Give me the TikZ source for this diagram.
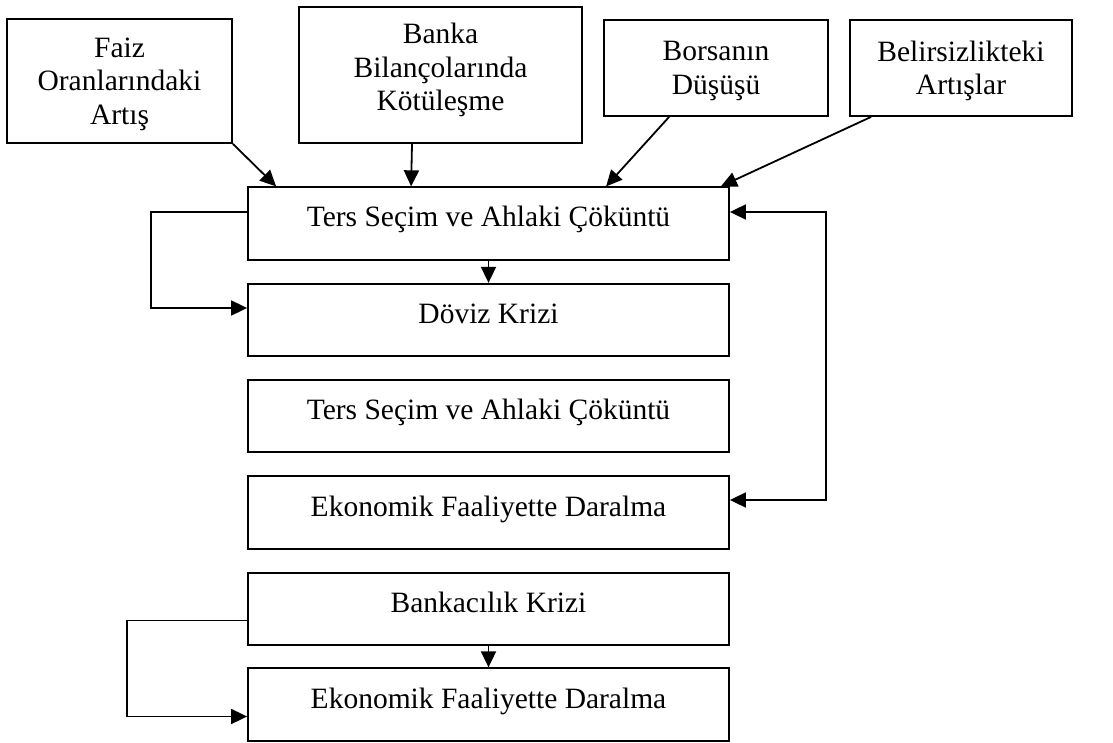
\documentclass[tikz,border=0pt]{standalone}
\usepackage{fontspec}
\setmainfont{Liberation Serif}
\usetikzlibrary{arrows.meta, positioning, calc}

\begin{document}
\begin{tikzpicture}[
    x=0.5pt, y=-0.5pt,
    topbox/.style={draw, line width=0.9pt, align=center, inner sep=2pt, text depth=0pt, font=\fontsize{14.75}{16.75}\selectfont},
    mainbox/.style={draw, line width=0.9pt, minimum width=240.5pt, minimum height=36.25pt, text height=9.5pt, text depth=6pt, font=\fontsize{14.75}{16.75}\selectfont},
    arr/.style={-{Triangle[length=8pt, width=7.5pt]}, line width=0.9pt},
    dblarr/.style={{Triangle[length=8pt, width=7.5pt]}-{Triangle[length=8pt, width=7.5pt]}, line width=0.9pt}
]
    \useasboundingbox (0,0) rectangle (1113,743);

    % Causes
    \node[topbox, minimum width=112.5pt, minimum height=62pt] (faiz) at (119.5,81) {Faiz\\Oranlarındaki\\Artış};
    \node[topbox, minimum width=141.5pt, minimum height=68pt, text depth=8pt] (banka) at (440.5,75) {Banka\\Bilançolarında\\Kötüleşme};
    \node[topbox, minimum width=112pt, minimum height=48pt] (borsa) at (716,68) {Borsanın\\Düşüşü};
    \node[topbox, minimum width=111pt, minimum height=48pt] (belirsiz) at (961,68) {Belirsizlikteki\\Artışlar};

    % Main chain
    \node[mainbox] (ters1) at (488.5,223.5) {Ters Seçim ve Ahlaki Çöküntü};
    \node[mainbox] (doviz) at (488.5,320) {Döviz Krizi};
    \node[mainbox] (ters2) at (488.5,416) {Ters Seçim ve Ahlaki Çöküntü};
    \node[mainbox] (eko1)  at (488.5,512.5) {Ekonomik Faaliyette Daralma};
    \node[mainbox] (bank)  at (488.5,609) {Bankacılık Krizi};
    \node[mainbox] (eko2)  at (488.5,704.5) {Ekonomik Faaliyette Daralma};

    % Causes to first box
    \draw[arr] (faiz.south east) -- ($(ters1.north west)+(29,0)$);
    \draw[arr] ($(banka.south)+(-28.5,0)$) -- ($(ters1.north west)+(164,0)$);
    \draw[arr] ($(borsa.south west)+(66,0)$) -- ($(ters1.north west)+(359,0)$);
    \draw[arr] ($(belirsiz.south west)+(22,0)$) -- ($(ters1.north east)+(-9,0)$);

    % Chain arrows
    \draw[arr] (ters1.south) -- (doviz.north);
    \draw[arr] (bank.south) -- (eko2.north);

    % Loops
    \draw[arr] ($(ters1.west)+(0,-11.5)$) -- ++(-96,0) |- ($(doviz.west)+(0,-12)$);
    \draw[dblarr] ($(ters1.east)+(0,-11.5)$) -- ++(96,0) |- ($(eko1.east)+(0,-12.5)$);
    \draw[arr] ($(bank.west)+(0,11.5)$) -- ++(-120,0) |- ($(eko2.west)+(0,12)$);
\end{tikzpicture}
\end{document}
